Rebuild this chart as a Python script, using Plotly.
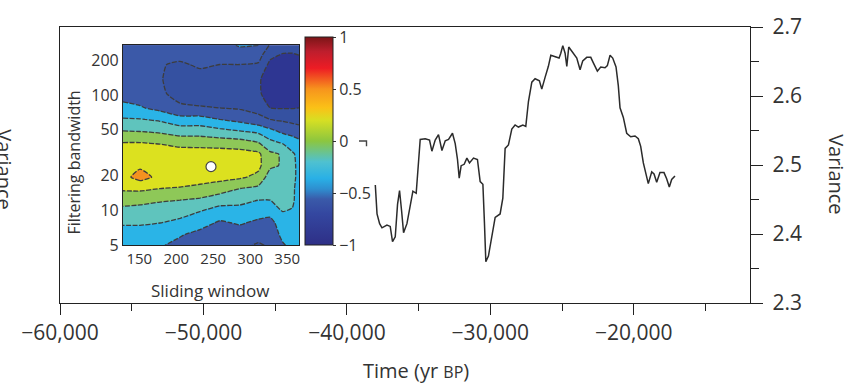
import plotly.graph_objects as go

# ---- Main series: variance through time ----
time_bp = [-38020, -37900, -37720, -37555, -37210, -36980, -36820, -36630, -36470, -36330,
           -36190, -36050, -35815, -35585, -35400, -35170, -35010, -34890, -34540, -34240,
           -34075, -33845, -33615, -33375, -33145, -32915, -32640, -32450, -32290, -32170,
           -32035, -31825, -31635, -31455, -31175, -30900, -30710, -30520, -30410, -30315,
           -30135, -29895, -29665, -29320, -29130, -28970, -28740, -28505, -28275, -28045,
           -27735, -27530, -27345, -27110, -26880, -26580, -26415, -26185, -25955, -25785,
           -25485, -25210, -25090, -24950, -24790, -24670, -24535, -24215, -23975, -23745,
           -23560, -23280, -23000, -22820, -22540, -22305, -22005, -21845, -21655, -21470,
           -21240, -21080, -20960, -20730, -20495, -20215, -19915, -19685, -19520, -19335,
           -19150, -18990, -18750, -18590, -18405, -18175, -17895, -17710, -17525, -17360,
           -17130]
variance = [2.471, 2.429, 2.415, 2.409, 2.413, 2.411, 2.389, 2.396, 2.443, 2.463,
            2.434, 2.402, 2.415, 2.440, 2.462, 2.459, 2.499, 2.537, 2.538, 2.536,
            2.520, 2.536, 2.544, 2.521, 2.535, 2.537, 2.546, 2.531, 2.508, 2.481,
            2.499, 2.501, 2.510, 2.503, 2.510, 2.508, 2.476, 2.472, 2.415, 2.360,
            2.368, 2.396, 2.424, 2.429, 2.452, 2.524, 2.529, 2.552, 2.558, 2.555,
            2.558, 2.556, 2.592, 2.620, 2.625, 2.622, 2.610, 2.627, 2.643, 2.659,
            2.657, 2.655, 2.662, 2.673, 2.662, 2.643, 2.671, 2.662, 2.655, 2.638,
            2.651, 2.656, 2.656, 2.648, 2.636, 2.642, 2.641, 2.644, 2.659, 2.655,
            2.642, 2.615, 2.583, 2.569, 2.546, 2.541, 2.542, 2.538, 2.527, 2.503,
            2.485, 2.473, 2.490, 2.487, 2.475, 2.489, 2.489, 2.480, 2.468, 2.479,
            2.484]

time_ticks = [-60000, -50000, -40000, -30000, -20000]
variance_ticks = [2.3, 2.4, 2.5, 2.6, 2.7]

# ---- Inset: correlation vs sliding window and filtering bandwidth ----
sliding_window = [128, 151, 178, 205, 232, 259, 286, 311, 327, 344, 357, 366]
bandwidth = [5, 6.2, 7.8, 9.8, 12.3, 15.5, 19.5, 24.5, 30.9, 38.8, 48.9, 61.5,
             77.4, 103, 138, 184, 222, 270]
correlation = [
    [-0.42, -0.44, -0.48, -0.56, -0.62, -0.64, -0.66, -0.72, -0.68, -0.52, -0.45, -0.44],
    [-0.38, -0.38, -0.40, -0.48, -0.56, -0.62, -0.60, -0.64, -0.62, -0.45, -0.42, -0.42],
    [-0.28, -0.28, -0.30, -0.34, -0.42, -0.53, -0.48, -0.54, -0.55, -0.42, -0.38, -0.40],
    [-0.16, -0.17, -0.20, -0.24, -0.30, -0.38, -0.38, -0.42, -0.45, -0.30, -0.31, -0.38],
    [-0.03, -0.05, -0.08, -0.10, -0.13, -0.22, -0.24, -0.30, -0.30, -0.26, -0.28, -0.35],
    [0.13, 0.14, 0.10, 0.08, 0.04, 0.00, -0.10, -0.15, -0.22, -0.22, -0.28, -0.34],
    [0.24, 0.37, 0.25, 0.24, 0.20, 0.16, 0.13, 0.05, -0.20, -0.20, -0.27, -0.33],
    [0.24, 0.27, 0.26, 0.25, 0.25, 0.25, 0.24, 0.15, -0.06, -0.12, -0.27, -0.33],
    [0.20, 0.22, 0.22, 0.20, 0.20, 0.20, 0.18, 0.14, -0.06, -0.12, -0.28, -0.34],
    [0.10, 0.10, 0.08, 0.03, 0.02, 0.00, -0.02, -0.10, -0.25, -0.32, -0.38, -0.45],
    [-0.10, -0.11, -0.14, -0.20, -0.20, -0.25, -0.30, -0.35, -0.45, -0.55, -0.60, -0.62],
    [-0.28, -0.29, -0.33, -0.42, -0.42, -0.50, -0.56, -0.65, -0.70, -0.73, -0.75, -0.77],
    [-0.45, -0.48, -0.56, -0.68, -0.69, -0.70, -0.72, -0.76, -0.90, -0.91, -0.91, -0.90],
    [-0.57, -0.60, -0.68, -0.74, -0.76, -0.78, -0.80, -0.88, -0.96, -0.97, -0.97, -0.96],
    [-0.62, -0.64, -0.69, -0.76, -0.75, -0.77, -0.78, -0.88, -0.97, -0.98, -0.98, -0.97],
    [-0.63, -0.65, -0.69, -0.72, -0.68, -0.70, -0.70, -0.72, -0.95, -0.97, -0.97, -0.96],
    [-0.62, -0.64, -0.66, -0.66, -0.64, -0.66, -0.60, -0.62, -0.85, -0.92, -0.92, -0.90],
    [-0.60, -0.62, -0.62, -0.62, -0.60, -0.58, -0.48, -0.50, -0.72, -0.80, -0.82, -0.85],
]
best_window = [247]
best_bandwidth = [24]
window_ticks = [150, 200, 250, 300, 350]
bandwidth_ticks = [5, 10, 20, 50, 100, 200]
colorbar_ticks = [-1, -0.5, 0, 0.5, 1]
colorbar_text = ["\u22121", "\u22120.5", "0", "0.5", "1"]

# band fills, from lowest band to highest
band_colors = ["#2e3692", "#3551a1", "#3b59a8", "#2ab4e7",
               "#5fc4bd", "#8ec858", "#dce11f", "#f49220"]
band_scale = [[i / (len(band_colors) - 1), c] for i, c in enumerate(band_colors)]

smooth_scale = [[0.0, "#2e2f86"], [0.15, "#3447a0"], [0.22, "#3a5aa9"], [0.27, "#2e8fd0"],
                [0.32, "#29b0e6"], [0.40, "#4fc1d0"], [0.50, "#8cc63f"], [0.60, "#d7df23"],
                [0.66, "#fbc117"], [0.75, "#f7941d"], [0.85, "#ed1c24"], [0.93, "#be1e2d"],
                [1.0, "#7b1517"]]

FONT = "Open Sans, Noto Sans, sans-serif"
INK = "#333333"
FRAME = "#222222"

W, H = 859, 385
ML, MR, MT, MB = 60, 109, 16, 82
PW, PH = W - ML - MR, H - MT - MB


def px(x):
    return (x - ML) / PW


def py(y):
    return (H - MB - y) / PH


def label(text, x, y, size, angle=0):
    return dict(text=text, x=px(x), y=py(y), xref="paper", yref="paper",
                xanchor="center", yanchor="middle", textangle=angle,
                showarrow=False, font=dict(size=size, color=INK))


fig = go.Figure()

fig.add_trace(go.Scatter(
    x=time_bp, y=variance, mode="lines",
    line=dict(color="#2b2b2b", width=1.5),
    xaxis="x", yaxis="y", showlegend=False, hoverinfo="skip"))

fig.add_trace(go.Contour(
    x=sliding_window, y=bandwidth, z=correlation,
    xaxis="x2", yaxis="y2",
    contours=dict(start=-0.9, end=0.3, size=0.2, coloring="fill"),
    colorscale=band_scale, showscale=False,
    line=dict(color="#3d3d3d", width=1.3, dash="5px,1.5px", smoothing=0.5),
    hoverinfo="skip"))

fig.add_trace(go.Scatter(
    x=best_window, y=best_bandwidth, mode="markers",
    marker=dict(size=10, color="white", line=dict(color="#444444", width=1.2)),
    xaxis="x2", yaxis="y2", showlegend=False, hoverinfo="skip"))

# continuous colour key for the correlation scale
fig.add_trace(go.Scatter(
    x=best_window, y=best_bandwidth, mode="markers",
    marker=dict(size=1, opacity=0, color=[0], colorscale=smooth_scale, cmin=-1, cmax=1,
                showscale=True,
                colorbar=dict(x=px(305), xanchor="left", y=py(243), yanchor="bottom",
                              lenmode="pixels", len=208, thicknessmode="pixels", thickness=28,
                              xpad=0, ypad=0, outlinewidth=1, outlinecolor=FRAME,
                              tickvals=colorbar_ticks, ticktext=colorbar_text,
                              ticks="outside", ticklen=3, tickcolor=INK,
                              tickfont=dict(size=16, color=INK, family=FONT))),
    xaxis="x2", yaxis="y2", showlegend=False, hoverinfo="skip"))

fig.update_layout(
    width=W, height=H,
    margin=dict(l=ML, r=MR, t=MT, b=MB),
    paper_bgcolor="white", plot_bgcolor="white",
    font=dict(family=FONT, color=INK),
    xaxis=dict(range=[-60000, -11900], tickvals=time_ticks, tickformat=",",
               ticks="outside", ticklen=11, tickwidth=1.3, tickcolor=FRAME,
               minor=dict(dtick=5000, tick0=-60000, ticks="outside", ticklen=7,
                          tickwidth=1.3, tickcolor=FRAME),
               showline=True, mirror=True, linecolor=FRAME, linewidth=1.4,
               showgrid=False, zeroline=False, tickfont=dict(size=21, color=INK)),
    yaxis=dict(range=[2.3, 2.7], side="right", tickvals=variance_ticks, tickformat=".1f",
               ticks="outside", ticklen=12, tickwidth=1.3, tickcolor=FRAME,
               ticklabelstandoff=5,
               minor=dict(dtick=0.05, tick0=2.3, ticks="outside", ticklen=8,
                          tickwidth=1.3, tickcolor=FRAME),
               showline=True, mirror=True, linecolor=FRAME, linewidth=1.4,
               showgrid=False, zeroline=False, tickfont=dict(size=21, color=INK)),
    xaxis2=dict(domain=[px(123), px(299)], anchor="y2", range=[128, 366],
                tickvals=window_ticks, ticks="", showline=True, mirror=True,
                linecolor=FRAME, linewidth=1.2, showgrid=False, zeroline=False,
                tickfont=dict(size=15, color=INK)),
    yaxis2=dict(domain=[py(243), py(35)], anchor="x2", type="log",
                range=[0.69897, 2.4314], tickvals=bandwidth_ticks, ticks="",
                showline=True, mirror=True, linecolor=FRAME, linewidth=1.2,
                showgrid=False, zeroline=False, tickfont=dict(size=16, color=INK)),
    annotations=[
        label("Time (yr <span style='font-size:16px'>BP</span>)", 416, 373, 20),
        label("Variance", 837, 169, 20, 90),
        label("Variance", 5, 164, 20, 90),
        label("Sliding window", 210, 290, 17),
        label("Filtering bandwidth", 74, 157, 16, -90),
    ],
    shapes=[
        dict(type="path", xref="paper", yref="paper",
             path=f"M {px(359)} {py(134.5)} L {px(366.5)} {py(134.5)} L {px(366.5)} {py(140)}",
             line=dict(color="#444444", width=1.4)),
    ],
)

fig.write_html("out.html")
